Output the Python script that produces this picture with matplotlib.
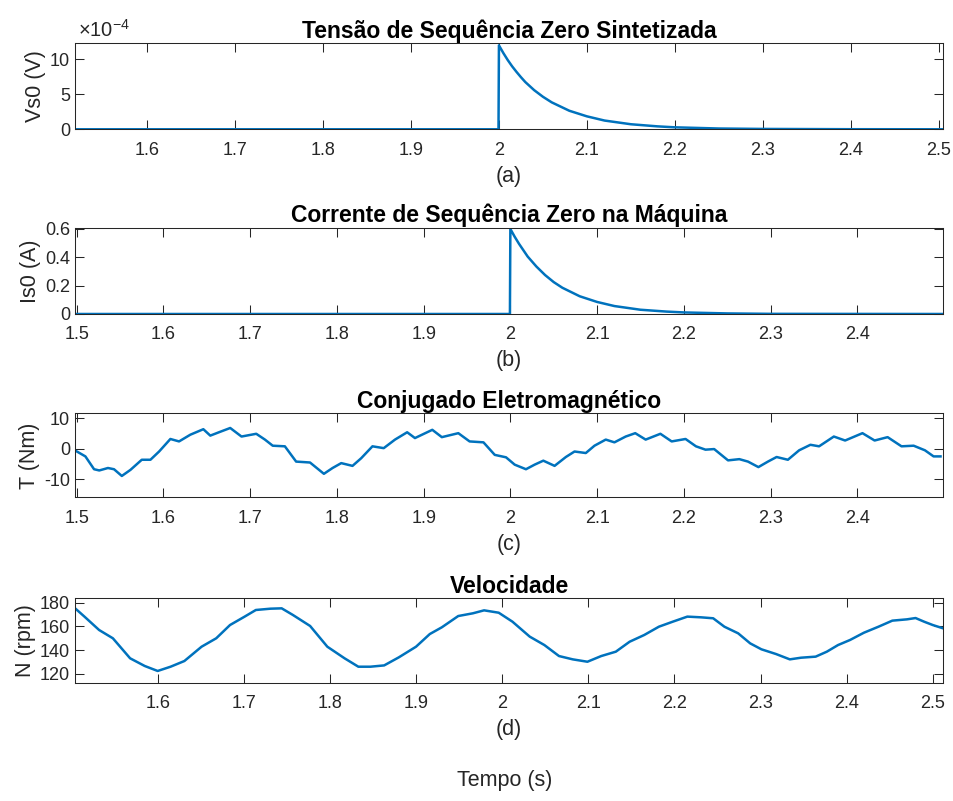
import numpy as np
import matplotlib
matplotlib.use("Agg")
import matplotlib.pyplot as plt

plt.rcParams['font.family'] = ['Liberation Sans', 'DejaVu Sans']
plt.rcParams['mathtext.fontset'] = 'custom'
plt.rcParams['mathtext.rm'] = 'Liberation Sans'

# (a) tensao de sequencia zero (unidades de 1e-4 V)
t_vs0 = [1.518, 1.9995, 2.0, 2.005, 2.01, 2.015, 2.02, 2.025, 2.03, 2.04, 2.05, 2.06,
         2.08, 2.10, 2.12, 2.15, 2.18, 2.20, 2.25, 2.30, 2.40, 2.505]
vs0 = [0.0, 0.0, 12.0, 10.9, 9.9, 9.0, 8.2, 7.45, 6.75, 5.6, 4.65, 3.85,
       2.65, 1.85, 1.25, 0.72, 0.42, 0.28, 0.11, 0.05, 0.01, 0.0]

# (b) corrente de sequencia zero (A)
t_is0 = [1.498, 1.9995, 2.0, 2.005, 2.01, 2.015, 2.02, 2.025, 2.03, 2.04, 2.05, 2.06,
         2.08, 2.10, 2.12, 2.15, 2.18, 2.20, 2.25, 2.30, 2.499]
is0 = [0.0, 0.0, 0.6, 0.545, 0.495, 0.45, 0.405, 0.37, 0.335, 0.275, 0.225, 0.185,
       0.125, 0.085, 0.056, 0.03, 0.017, 0.011, 0.004, 0.001, 0.0]

# (c) conjugado eletromagnetico (Nm)
t_te = [1.499, 1.510, 1.520, 1.526, 1.536, 1.543, 1.552, 1.562, 1.575, 1.585, 1.595,
        1.608, 1.618, 1.631, 1.646, 1.654, 1.664, 1.677, 1.690, 1.707, 1.717, 1.726,
        1.740, 1.753, 1.769, 1.785, 1.795, 1.805, 1.818, 1.828, 1.841, 1.854, 1.867,
        1.881, 1.890, 1.910, 1.921, 1.940, 1.953, 1.969, 1.982, 1.995, 2.005, 2.018,
        2.028, 2.038, 2.051, 2.064, 2.074, 2.087, 2.097, 2.110, 2.120, 2.133, 2.144,
        2.156, 2.173, 2.186, 2.202, 2.214, 2.225, 2.235, 2.251, 2.264, 2.274, 2.286,
        2.297, 2.307, 2.320, 2.333, 2.346, 2.356, 2.373, 2.386, 2.406, 2.420, 2.435,
        2.451, 2.465, 2.478, 2.488, 2.496]
te = [-0.7, -2.5, -6.7, -7.1, -6.3, -6.7, -8.9, -6.9, -3.6, -3.6, -0.9,
      3.2, 2.4, 4.6, 6.4, 4.3, 5.4, 6.8, 4.0, 4.9, 3.0, 1.0,
      0.8, -4.2, -4.5, -8.2, -6.3, -4.7, -5.6, -3.1, 0.8, 0.2, 3.0,
      5.4, 3.5, 6.2, 3.8, 5.1, 2.4, 2.1, -2.0, -2.8, -5.2, -6.7,
      -5.2, -3.9, -5.6, -2.7, -0.9, -1.4, 1.0, 3.0, 2.1, 4.0, 5.1,
      3.0, 4.9, 2.4, 3.2, 0.8, -0.3, -0.1, -3.8, -3.4, -4.2, -6.0,
      -4.2, -2.7, -3.6, -0.5, 1.3, 0.8, 4.0, 2.7, 5.1, 2.7, 3.8,
      0.8, 1.0, -0.5, -2.5, -2.5]

# (d) velocidade (rpm)
t_n = [1.502, 1.515, 1.532, 1.548, 1.568, 1.585, 1.600, 1.615, 1.631, 1.651, 1.668,
       1.684, 1.701, 1.714, 1.731, 1.744, 1.757, 1.777, 1.797, 1.817, 1.833, 1.847,
       1.863, 1.880, 1.900, 1.916, 1.930, 1.949, 1.966, 1.979, 1.996, 2.012, 2.032,
       2.049, 2.066, 2.082, 2.099, 2.115, 2.132, 2.148, 2.165, 2.182, 2.198, 2.215,
       2.231, 2.245, 2.258, 2.274, 2.288, 2.301, 2.318, 2.334, 2.347, 2.364, 2.377,
       2.390, 2.404, 2.420, 2.437, 2.453, 2.470, 2.480, 2.490, 2.500, 2.512]
n_rpm = [176.6, 168.2, 156.9, 149.9, 133.0, 126.5, 122.3, 125.9, 130.7, 142.8, 149.9,
         161.1, 168.2, 173.8, 174.9, 175.2, 169.6, 160.3, 142.8, 133.0, 125.9, 125.9,
         127.0, 133.8, 142.8, 153.5, 159.2, 168.7, 171.0, 173.5, 171.5, 163.9, 151.3,
         144.2, 134.9, 132.1, 130.1, 134.9, 138.6, 147.0, 152.7, 159.7, 163.9, 168.2,
         167.6, 166.8, 159.7, 154.1, 145.6, 140.6, 136.6, 132.1, 133.5, 134.4, 138.6,
         144.2, 148.5, 154.6, 159.7, 164.8, 165.9, 167.0, 163.9, 161.1, 158.3]

titles = ['Tensão de Sequência Zero Sintetizada', 'Corrente de Sequência Zero na Máquina',
          'Conjugado Eletromagnético', 'Velocidade']
ylabels = ['Vs0 (V)', 'Is0 (A)', 'T (Nm)', 'N (rpm)']
letters = ['(a)', '(b)', '(c)', '(d)']

series = [(t_vs0, vs0), (t_is0, is0), (t_te, te), (t_n, n_rpm)]
xlims = [(1.518, 2.505), (1.498, 2.499), (1.498, 2.499), (1.504, 2.512)]
ylims = [(0, 12.3), (0, 0.607), (-15.9, 11.6), (112.4, 183.7)]
yticks = [[0, 5, 10], [0, 0.2, 0.4, 0.6], [-10, 0, 10], [120, 140, 160, 180]]
ytlabels = [['0', '5', '10'], ['0', '0.2', '0.4', '0.6'], ['-10', '0', '10'],
            ['120', '140', '160', '180']]

gray = '#262626'
blue = '#0072BD'

fig = plt.figure(figsize=(9.54, 8.01), dpi=100)
bottoms = [0.8386, 0.608, 0.3791, 0.1477]
heights = [0.1074, 0.1074, 0.1049, 0.1054]

for i in range(4):
    ax = fig.add_axes([0.0786, bottoms[i], 0.910, heights[i]])
    tx, yv = series[i]
    ax.plot(tx, yv, color=blue, lw=1.8, solid_joinstyle='round')
    ax.set_xlim(*xlims[i])
    ax.set_ylim(*ylims[i])
    xt = np.round(np.arange(1.5, 2.51, 0.1), 1)
    xt = [v for v in xt if xlims[i][0] <= v <= xlims[i][1]]
    ax.set_xticks(xt)
    ax.set_xticklabels(['2' if abs(v - 2) < 1e-9 else '%g' % v for v in xt])
    ax.set_yticks(yticks[i])
    ax.set_yticklabels(ytlabels[i])
    ax.tick_params(direction='in', length=6.5, width=0.75, colors=gray,
                   labelsize=13, top=True, right=True)
    ax.tick_params(axis='x', pad=9)
    ax.tick_params(axis='y', pad=3.5)
    for s in ax.spines.values():
        s.set_color(gray)
        s.set_linewidth(0.75)
    ax.set_title(titles[i], fontsize=16.5, fontweight='bold', color='black', pad=4)
    ax.set_ylabel(ylabels[i], fontsize=15.5, color=gray, labelpad=3)
    ax.set_xlabel(letters[i], fontsize=15.5, color=gray, labelpad=5)
    if i == 0:
        ax.text(0.003, 1.03, r'$\times10^{-4}$', transform=ax.transAxes,
                fontsize=14.5, color=gray, ha='left', va='bottom')

fig.text(0.529, 0.026, 'Tempo (s)', fontsize=15.5, color=gray, ha='center', va='center')

fig.savefig('out.png', dpi=100)
